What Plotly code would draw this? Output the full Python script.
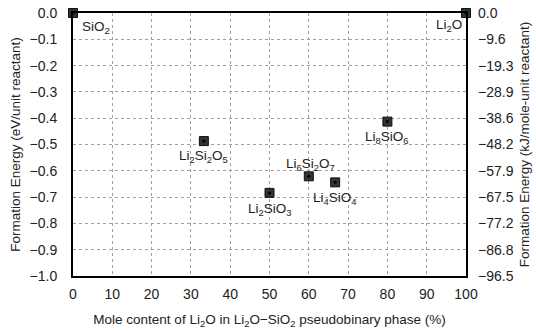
import plotly.graph_objects as go

# Data
compounds = ["SiO<sub>2</sub>", "Li<sub>2</sub>Si<sub>2</sub>O<sub>5</sub>", "Li<sub>2</sub>SiO<sub>3</sub>",
             "Li<sub>6</sub>Si<sub>2</sub>O<sub>7</sub>", "Li<sub>4</sub>SiO<sub>4</sub>",
             "Li<sub>8</sub>SiO<sub>6</sub>", "Li<sub>2</sub>O"]
li2o_content = [0, 33.3, 50.0, 60.0, 66.7, 80.0, 100]
formation_ev = [0.0, -0.487, -0.684, -0.621, -0.644, -0.413, 0.0]

y_ticks = [0.0, -0.1, -0.2, -0.3, -0.4, -0.5, -0.6, -0.7, -0.8, -0.9, -1.0]
kj_ticks = ["0.0", "−9.6", "−19.3", "−28.9", "−38.6", "−48.2", "−57.9", "−67.5", "−77.2", "−86.8", "−96.5"]
x_ticks = [0, 10, 20, 30, 40, 50, 60, 70, 80, 90, 100]

# label offsets (pixels) and anchors per point
label_pos = [
    (7, 14, "left"), (0, 15, "center"), (0, 17, "center"),
    (2, -12, "center"), (0, 16, "center"), (0, 16, "center"), (-2, 12, "right"),
]

font_family = "Liberation Sans, Arial, sans-serif"

fig = go.Figure()
fig.add_trace(go.Scatter(
    x=li2o_content, y=formation_ev, mode="markers",
    marker=dict(symbol="square", size=9, color="#333333", line=dict(color="#111111", width=1)),
    showlegend=False, cliponaxis=False, hoverinfo="skip"))
fig.add_trace(go.Scatter(
    x=li2o_content, y=formation_ev, mode="markers",
    marker=dict(symbol="circle", size=3, color="#000000"),
    showlegend=False, cliponaxis=False, hoverinfo="skip"))
# invisible trace for right axis
fig.add_trace(go.Scatter(x=[0], y=[0], yaxis="y2", mode="markers",
                         marker=dict(opacity=0), showlegend=False, hoverinfo="skip"))

for name, xv, yv, (dx, dy, anc) in zip(compounds, li2o_content, formation_ev, label_pos):
    fig.add_annotation(x=xv, y=yv, text=name, showarrow=False,
                       xshift=dx, yshift=-dy, xanchor=anc, yanchor="middle",
                       font=dict(size=13.5, color="#222222", family=font_family))

grid = dict(showgrid=True, gridcolor="#a0a0a0", gridwidth=1, griddash="dot")

fig.update_layout(
    width=536, height=331,
    margin=dict(l=73, r=70, t=13, b=55),
    paper_bgcolor="white", plot_bgcolor="white",
    font=dict(family=font_family, size=13.5, color="#222222"),
    xaxis=dict(range=[0, 100], tickvals=x_ticks, ticks="", ticklabelstandoff=4, automargin=False,
               showline=True, linecolor="black",
               linewidth=2, mirror=True, zeroline=False, **grid,
               title=dict(text="Mole content of Li<sub>2</sub>O in Li<sub>2</sub>O−SiO<sub>2</sub> pseudobinary phase (%)",
                          font=dict(size=13.5), standoff=14),
               tickfont=dict(size=14)),
    yaxis=dict(range=[-1.0, 0.0], tickvals=y_ticks, tickformat=".1f", ticks="", ticklabelstandoff=11,
               automargin=False,
               showline=True, linecolor="black", linewidth=2, mirror=True, zeroline=False, **grid,
               title=dict(text="Formation Energy (eV/unit reactant)", font=dict(size=13.5), standoff=6),
               tickfont=dict(size=14)),
    yaxis2=dict(range=[-96.485, 0.0], overlaying="y", side="right", automargin=False,
                tickvals=[t * 96.485 for t in y_ticks], ticktext=kj_ticks, ticks="", ticklabelstandoff=11,
                showgrid=False, zeroline=False, showline=False,
                title=dict(text="Formation Energy (kJ/mole-unit reactant)", font=dict(size=13.5), standoff=6),
                tickfont=dict(size=14)),
)

fig.write_html("out.html")
